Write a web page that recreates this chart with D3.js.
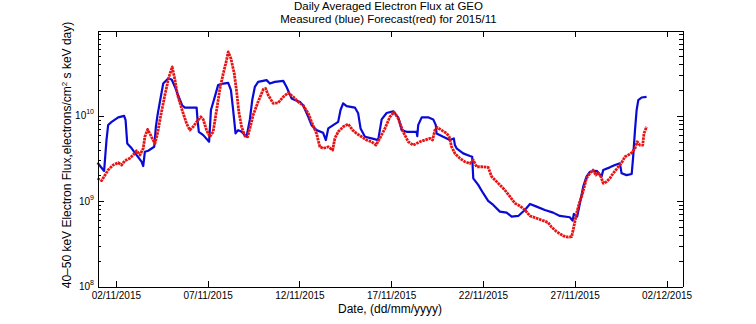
<!DOCTYPE html>
<html>
<head>
<meta charset="utf-8">
<title>Daily Averaged Electron Flux at GEO</title>
<script src="https://d3js.org/d3.v7.min.js"></script>
<style>
  body { margin: 0; background: #fff; }
  svg text { font-family: "Liberation Sans", Arial, Helvetica, sans-serif; fill: #000; }
  .axis path, .axis line { stroke: #000; stroke-width: 1; shape-rendering: crispEdges; }
</style>
</head>
<body>
<div id="vis"></div>
<script>
// days since 01/11/2015 00:00 and flux (electrons/cm2 s keV day)
var measuredDays = [0.00,0.36,0.49,0.58,0.77,1.13,1.45,1.53,1.62,1.86,
  2.13,2.40,2.49,2.58,2.76,3.09,3.18,3.27,3.40,3.58,
  3.85,4.04,4.22,4.39,4.61,4.76,5.40,5.45,5.52,5.76,
  6.08,6.18,6.39,6.57,6.85,7.12,7.27,7.39,7.52,7.66,
  7.85,8.12,8.30,8.43,8.57,8.75,9.21,9.39,9.66,10.12,
  10.30,10.57,10.85,11.02,11.20,11.48,11.66,11.93,12.29,12.44,
  12.57,12.84,13.11,13.24,13.38,13.57,14.02,14.20,14.33,14.57,
  14.93,15.29,15.38,15.48,15.75,16.11,16.38,16.57,16.84,17.38,
  17.42,17.47,17.66,18.01,18.29,18.43,18.47,18.83,19.20,19.41,
  19.47,19.56,19.92,20.29,20.41,20.47,20.74,21.01,21.28,21.56,
  21.92,22.29,22.56,22.92,23.28,23.56,23.92,24.37,24.82,25.19,
  25.73,25.88,25.95,26.13,26.28,26.46,26.64,26.82,27.19,27.46,
  27.55,27.91,28.19,28.46,28.55,28.82,29.10,29.18,29.28,29.37,
  29.46,29.64,29.91];
var measuredFlux = [2.82e9,2.26e9,5.2e9,7.8e9,8.5e9,9.6e9,1.0e10,8.9e9,4.75e9,4.16e9,
  3.47e9,2.9e9,2.58e9,3.79e9,3.9e9,4.34e9,7.43e9,1.02e10,1.46e10,2.39e10,
  2.74e10,2.67e10,2.18e10,1.75e10,1.33e10,1.25e10,1.25e10,8.9e9,6.5e9,5.94e9,
  4.97e9,1.17e10,1.67e10,2.29e10,2.39e10,2.43e10,2.0e10,1.17e10,6.22e9,6.8e9,
  6.5e9,5.68e9,9.08e9,1.53e10,2.18e10,2.5e10,2.62e10,2.39e10,2.5e10,2.57e10,
  2.18e10,1.6e10,1.5e10,1.46e10,1.33e10,9.73e9,7.78e9,6.8e9,6.32e9,5.2e9,
  7.12e9,7.78e9,8.5e9,1.17e10,1.4e10,1.3e10,1.25e10,1.07e10,7.12e9,5.68e9,
  5.44e9,5.2e9,6.8e9,9.08e9,1.08e10,1.13e10,9.6e9,6.8e9,6.5e9,6.5e9,
  5.79e9,7.78e9,9.6e9,9.6e9,9.08e9,7.78e9,6.22e9,5.68e9,5.2e9,5.44e9,
  4.54e9,4.16e9,3.63e9,3.38e9,3.32e9,1.85e9,1.55e9,1.24e9,1.01e9,9.03e8,
  7.54e8,7.34e8,6.59e8,6.71e8,7.89e8,9.27e8,8.63e8,7.89e8,7.34e8,6.71e8,
  6.48e8,5.92e8,7.08e8,6.59e8,9.45e8,1.48e9,1.94e9,2.21e9,2.27e9,1.94e9,
  2.32e9,2.49e9,2.65e9,2.77e9,2.12e9,2.02e9,2.08e9,3.31e9,6.8e9,1.17e10,
  1.53e10,1.64e10,1.67e10];

var forecastDays = [0.00,0.22,0.36,0.58,0.85,1.13,1.31,1.49,1.76,1.94,
  2.13,2.31,2.49,2.58,2.73,2.85,2.98,3.13,3.27,3.45,
  3.67,3.89,4.07,4.22,4.36,4.61,4.85,5.03,5.21,5.40,
  5.63,5.76,5.94,6.12,6.30,6.49,6.67,6.85,7.03,7.12,
  7.27,7.45,7.58,7.70,7.85,8.03,8.18,8.30,8.48,8.75,
  9.03,9.16,9.30,9.57,9.84,10.12,10.39,10.66,10.93,11.20,
  11.48,11.66,11.93,12.11,12.29,12.57,12.81,12.93,13.11,13.38,
  13.66,13.90,14.11,14.39,14.66,14.93,15.17,15.38,15.66,15.93,
  16.15,16.38,16.65,16.93,17.20,17.56,17.83,18.11,18.25,18.38,
  18.51,18.74,19.02,19.16,19.29,19.47,19.74,20.01,20.29,20.47,
  20.65,20.92,21.28,21.47,21.92,22.19,22.47,22.74,23.01,23.28,
  23.56,23.92,24.28,24.55,24.74,25.01,25.37,25.64,25.83,25.95,
  26.10,26.24,26.37,26.50,26.64,26.82,27.00,27.15,27.28,27.42,
  27.55,27.73,27.91,28.09,28.24,28.37,28.55,28.73,28.91,29.10,
  29.28,29.40,29.55,29.70,29.77,29.91];
var forecastFlux = [1.85e9,1.74e9,1.94e9,2.32e9,2.65e9,2.82e9,2.65e9,2.98e9,3.18e9,3.47e9,
  3.9e9,3.47e9,4.16e9,5.68e9,6.93e9,6.22e9,5.44e9,4.75e9,6.22e9,1.02e10,
  1.75e10,2.86e10,3.74e10,2.62e10,1.75e10,1.17e10,8.15e9,6.8e9,7.43e9,8.5e9,
  9.73e9,9.08e9,6.8e9,5.68e9,6.5e9,1.17e10,2.09e10,3.13e10,4.48e10,5.61e10,
  4.69e10,3.13e10,1.91e10,1.11e10,7.43e9,5.79e9,5.68e9,7.12e9,1.02e10,1.46e10,
  2.04e10,2.09e10,1.75e10,1.4e10,1.42e10,1.67e10,1.86e10,1.67e10,1.46e10,1.33e10,
  1.07e10,8.5e9,6.22e9,4.34e9,4.16e9,4.34e9,3.97e9,5.44e9,6.5e9,7.43e9,
  8.0e9,6.8e9,6.22e9,5.68e9,5.2e9,4.97e9,4.54e9,5.44e9,7.12e9,9.73e9,
  1.11e10,9.33e9,6.5e9,4.97e9,4.54e9,4.97e9,5.2e9,5.44e9,5.2e9,6.8e9,
  7.31e9,6.8e9,6.22e9,5.68e9,4.34e9,3.63e9,3.18e9,2.9e9,2.77e9,3.03e9,
  2.53e9,2.53e9,2.49e9,1.94e9,1.55e9,1.35e9,1.13e9,9.45e8,8.79e8,7.89e8,
  6.71e8,6.31e8,5.92e8,5.61e8,4.95e8,4.4e8,3.92e8,3.78e8,3.84e8,5.03e8,
  7.22e8,9.45e8,1.13e9,1.42e9,1.85e9,2.12e9,2.32e9,2.02e9,2.15e9,1.94e9,
  1.62e9,1.69e9,1.85e9,2.12e9,2.32e9,2.53e9,2.82e9,3.31e9,3.47e9,3.69e9,
  4.16e9,4.97e9,4.54e9,4.54e9,6.22e9,7.43e9];

var xTickLabels = ["02/11/2015","07/11/2015","12/11/2015","17/11/2015","22/11/2015","27/11/2015","02/12/2015"];
var yTickExponents = [8, 9, 10];
var titleLines = ["Daily Averaged Electron Flux at GEO", "Measured (blue) Forecast(red) for 2015/11"];

var W = 756, H = 324;
var t0 = Date.UTC(2015, 10, 1);
var parseDay = d3.utcParse("%d/%m/%Y");

var x = d3.scaleUtc()
  .domain([new Date(t0), new Date(Date.UTC(2015, 11, 2, 20, 50))])
  .range([97.5, 682.5]);

var y = d3.scaleLog()
  .domain([1e8, 1e11])
  .range([286.5, 30.5]);

var svg = d3.select("#vis").append("svg")
  .attr("width", W)
  .attr("height", H);

function toPoints(days, flux) {
  return days.map(function(d, i) { return [new Date(t0 + d * 864e5), flux[i]]; });
}
var measured = toPoints(measuredDays, measuredFlux);
var forecast = toPoints(forecastDays, forecastFlux);

var line = d3.line()
  .x(function(d) { return x(d[0]); })
  .y(function(d) { return y(d[1]); });

svg.append("path")
  .datum(measured)
  .attr("fill", "none")
  .attr("stroke", "#0a0ad6")
  .attr("stroke-width", 2.2)
  .attr("stroke-linejoin", "round")
  .attr("d", line);

svg.append("path")
  .datum(forecast)
  .attr("fill", "none")
  .attr("stroke", "#e81414")
  .attr("stroke-width", 2.8)
  .attr("stroke-linejoin", "round")
  .attr("stroke-dasharray", "2.6,0.7")
  .attr("d", line);

// axes
var xTicks = xTickLabels.map(function(s) { return parseDay(s); });
var majorY = yTickExponents.map(function(e) { return Math.pow(10, e); });
var minorY = [];
yTickExponents.forEach(function(e) {
  for (var k = 2; k <= 9; k++) minorY.push(k * Math.pow(10, e));
});

svg.append("g").attr("class", "axis")
  .attr("transform", "translate(0," + y.range()[0] + ")")
  .call(d3.axisBottom(x).tickValues(xTicks).tickSizeInner(-6).tickSizeOuter(0)
    .tickPadding(5).tickFormat(d3.utcFormat("%d/%m/%Y")))
  .call(function(g) { g.selectAll("text").attr("font-size", 10).attr("font-family", null); });

svg.append("g").attr("class", "axis")
  .attr("transform", "translate(0," + y.range()[1] + ")")
  .call(d3.axisTop(x).tickValues(xTicks).tickSizeInner(-6).tickSizeOuter(0).tickFormat(""));

[[d3.axisLeft, x.range()[0]], [d3.axisRight, x.range()[1]]].forEach(function(a) {
  svg.append("g").attr("class", "axis")
    .attr("transform", "translate(" + a[1] + ",0)")
    .call(a[0](y).tickValues(majorY).tickSizeInner(-6).tickSizeOuter(0).tickFormat(""));
  svg.append("g").attr("class", "axis")
    .attr("transform", "translate(" + a[1] + ",0)")
    .call(a[0](y).tickValues(minorY).tickSizeInner(-3.5).tickSizeOuter(0).tickFormat(""))
    .call(function(g) { g.select(".domain").remove(); });
});

// y tick labels 10^n
var yl = svg.append("g").selectAll("text").data(yTickExponents).enter().append("text")
  .attr("x", 94)
  .attr("y", function(e) { return y(Math.pow(10, e)) + 3.5; })
  .attr("text-anchor", "end")
  .attr("font-size", 10);
yl.append("tspan").text("10");
yl.append("tspan").attr("dy", -5).attr("font-size", 7).text(function(e) { return e; });

// two-line title
svg.append("g").selectAll("text").data(titleLines).enter().append("text")
  .attr("x", 388.5)
  .attr("y", function(d, i) { return 10.4 + i * 12.8; })
  .attr("text-anchor", "middle")
  .attr("font-size", 11.5)
  .text(function(d) { return d; });

svg.append("text").attr("x", 390).attr("y", 312.5).attr("text-anchor", "middle")
  .attr("font-size", 12).text("Date, (dd/mm/yyyy)");

var ylab = svg.append("text")
  .attr("transform", "translate(71,155) rotate(-90)")
  .attr("text-anchor", "middle")
  .attr("font-size", 12);
ylab.append("tspan").text("40\u201350 keV Electron Flux,electrons/cm");
ylab.append("tspan").attr("dy", -4.5).attr("font-size", 8).text("2");
ylab.append("tspan").attr("dy", 4.5).text(" s keV day)");
</script>
</body>
</html>
